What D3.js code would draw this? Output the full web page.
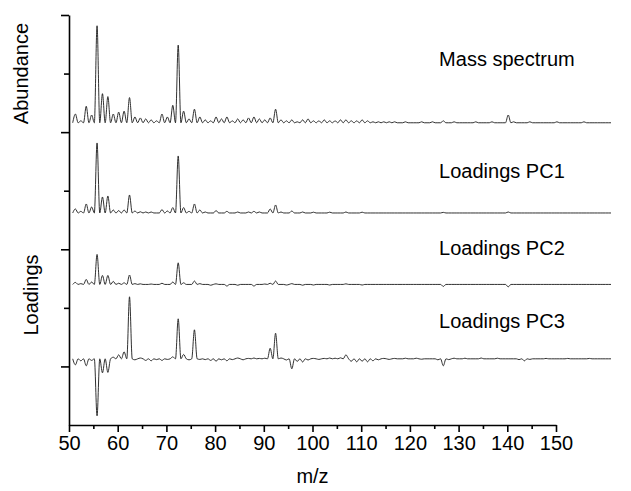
<!DOCTYPE html>
<html>
<head>
<meta charset="utf-8">
<script src="https://cdn.jsdelivr.net/npm/d3@7"></script>
<style>
    body { margin: 0; background: #fff; }
    svg { display: block; font-family: "Liberation Sans", Arial, sans-serif; }
    .axis path, .axis line { stroke: #000; stroke-width: 1.6; }
    .axis text { font-size: 20px; fill: #000; }
    .trace { fill: none; stroke: #1a1a1a; stroke-width: 0.9; }
    .label { font-size: 20px; fill: #000; }
</style>
</head>
<body>
<div id="chart"></div>
<script>
'use strict';

// Peak heights per unit mass [m/z, value]
// Mass spectrum in % of base peak
const massSpectrum = [
    [51, 9], [52, 2], [53, 17], [54, 8], [55, 100], [56, 30], [57, 27], [58, 9], [59, 11], [60, 12],
    [61, 26], [62, 6], [63, 5], [64, 4], [65, 3], [66, 2], [67, 9], [68, 6], [69, 18], [70, 80],
    [71, 12], [72, 4], [73, 14], [74, 6], [75, 3], [76, 2], [77, 6], [78, 4], [79, 6], [80, 2],
    [81, 4], [82, 3], [83, 5], [84, 6], [85, 4], [86, 3], [87, 5], [88, 14], [89, 3], [90, 2],
    [91, 3], [92, 1], [93, 3], [94, 4], [95, 2], [96, 2], [97, 3], [98, 2], [99, 2], [100, 3],
    [101, 3], [102, 2], [103, 2], [104, 3], [105, 2], [106, 1], [107, 1], [108, 1], [109, 1], [110, 1],
    [112, 1], [115, 1], [117, 1], [119, 2], [121, 1], [125, 1], [128, 1], [131, 8], [132, 1], [135, 1],
    [140, 1], [145, 1]
];

// Loadings of the three principal components
const loadingsPC1 = [
    [51, 0.02], [52, 0.008], [53, 0.045], [54, 0.03], [55, 0.35], [56, 0.08], [57, 0.085], [58, 0.015],
    [59, 0.012], [60, 0.015], [61, 0.09], [62, 0.01], [63, 0.006], [64, 0.005], [65, 0.005], [67, 0.017],
    [68, 0.01], [69, 0.027], [70, 0.285], [71, 0.027], [72, 0.008], [73, 0.045], [74, 0.015], [75, 0.005],
    [77, 0.012], [79, 0.008], [81, 0.005], [83, 0.005], [84, 0.008], [85, 0.005], [87, 0.02], [88, 0.04],
    [89, 0.005], [91, 0.01], [93, 0.005], [95, 0.004], [98, 0.004], [101, 0.005], [104, 0.004],
    [119, 0.003], [131, 0.005]
];

const loadingsPC2 = [
    [51, 0.01], [52, 0.004], [53, 0.025], [54, 0.012], [55, 0.15], [56, 0.045], [57, 0.045], [58, 0.015],
    [59, 0.006], [60, 0.008], [61, 0.047], [62, 0.004], [63, 0.003], [65, 0.002], [67, 0.006], [69, 0.012],
    [70, 0.108], [71, 0.008], [73, 0.017], [74, 0.004], [76, -0.004], [77, 0.003], [79, -0.008], [81, -0.004],
    [84, -0.008], [86, 0.002], [87, 0.006], [88, 0.017], [90, -0.003], [91, 0.004], [93, -0.004], [95, -0.003],
    [98, -0.003], [101, 0.003], [104, -0.003], [119, -0.01], [131, -0.012]
];

const loadingsPC3 = [
    [51, -0.03], [52, -0.01], [53, -0.035], [54, -0.008], [55, -0.285], [56, -0.07], [57, -0.068], [58, 0.008],
    [59, 0.02], [60, 0.035], [61, 0.31], [62, -0.005], [63, 0.004], [64, -0.008], [65, -0.01], [66, -0.004],
    [67, -0.008], [68, -0.003], [69, 0.01], [70, 0.2], [71, 0.022], [72, -0.005], [73, 0.145], [74, -0.003],
    [75, -0.004], [76, -0.008], [77, -0.012], [78, -0.005], [79, -0.01], [80, -0.004], [81, 0.004], [82, -0.005],
    [83, 0.002], [84, 0.004], [85, 0.002], [86, 0.003], [87, 0.053], [88, 0.128], [89, 0.004], [90, -0.006],
    [91, -0.05], [92, -0.013], [93, -0.016], [94, -0.006], [95, 0.002], [96, -0.003], [97, 0.002], [98, 0.004],
    [99, 0.003], [100, 0.005], [101, 0.02], [102, -0.012], [103, -0.015], [104, -0.012], [105, -0.015], [106, -0.01],
    [107, -0.005], [108, 0.002], [109, -0.003], [110, 0.002], [112, 0.003], [114, 0.003], [115, -0.002], [118, -0.005],
    [119, -0.035], [120, -0.004], [121, 0.003], [123, 0.003], [126, 0.004], [129, 0.003], [133, -0.004], [134, -0.01],
    [135, -0.003], [138, 0.002], [142, 0.002], [146, 0.002]
];

// Axis ticks
const xMajorTicks = [50, 60, 70, 80, 90, 100, 110, 120, 130, 140, 150];
const xMinorTicks = [55, 65, 75, 85, 95, 105, 115, 125, 135, 145];
const yMajorTicks = [1, 3, 5, 7];
const yMinorTicks = [2, 4, 6];

// Trace names as printed next to each trace
const traceNames = ['Mass spectrum', 'Loadings PC1', 'Loadings PC2', 'Loadings PC3'];

// Layout
const width = 631, height = 491;
const margins = { left: 69, right: 75, top: 15, bottom: 66 };

const svg = d3.select('#chart').append('svg')
    .attr('width', width)
    .attr('height', height);

// Axis scale (tick positions as printed)
const scaleX = d3.scaleLinear()
    .domain([50, 150])
    .range([margins.left, width - margins.right]);

// The traces in the original run wider than the printed axis (they end near x = 611)
const scaleMz = d3.scaleLinear()
    .domain([50, 150])
    .range([70, 611]);

const scaleY = d3.scaleLinear()
    .domain([0, 7])
    .range([height - margins.bottom, margins.top]);

// Each trace is stacked on its own baseline (in axis units) with its own gain
const traces = [
    { name: traceNames[0], peaks: massSpectrum, base: 5.16, gain: 0.01656, labelY: 6.13 },
    { name: traceNames[1], peaks: loadingsPC1, base: 3.62, gain: 3.415, labelY: 4.22 },
    { name: traceNames[2], peaks: loadingsPC2, base: 2.40, gain: 3.415, labelY: 2.9 },
    { name: traceNames[3], peaks: loadingsPC3, base: 1.13, gain: 3.415, labelY: 1.66 }
];

// Turn unit-mass peaks into a profile: peak at each m/z, baseline in between
function profile(peaks) {
    let byMz = new Map(peaks);
    let pts = [];
    for (let m = 50; m <= 150; m++) {
        if (m > 50) pts.push([m - 0.5, 0]);
        pts.push([m, byMz.get(m) || 0]);
    }
    return pts.filter(d => d[0] >= 50.5);
}

// Draw traces
traces.forEach(t => {
    let line = d3.line()
        .x(d => scaleMz(d[0]))
        .y(d => scaleY(t.base + d[1] * t.gain))
        .curve(d3.curveMonotoneX);

    svg.append('path')
        .datum(profile(t.peaks))
        .classed('trace', true)
        .attr('d', line);

    svg.append('text')
        .classed('label', true)
        .attr('x', scaleX(126))
        .attr('y', scaleY(t.labelY))
        .text(t.name);
});

// Draw axes
const xAxisY = height - margins.bottom;

svg.append('g')
    .classed('axis axis-x', true)
    .attr('transform', `translate(0, ${xAxisY})`)
    .call(d3.axisBottom(scaleX).tickValues(xMajorTicks).tickSize(7).tickSizeOuter(0).tickPadding(4));

svg.append('g')
    .classed('axis axis-x-minor', true)
    .attr('transform', `translate(0, ${xAxisY})`)
    .call(d3.axisBottom(scaleX).tickValues(xMinorTicks).tickSize(4).tickFormat(''))
    .call(g => g.select('.domain').remove())
    .selectAll('line').attr('stroke', '#000').attr('stroke-width', 1.6);

svg.append('g')
    .classed('axis axis-y', true)
    .attr('transform', `translate(${margins.left}, 0)`)
    .call(d3.axisLeft(scaleY).tickValues(yMajorTicks).tickSize(8).tickSizeOuter(0).tickFormat(''));

svg.append('g')
    .classed('axis axis-y-minor', true)
    .attr('transform', `translate(${margins.left}, 0)`)
    .call(d3.axisLeft(scaleY).tickValues(yMinorTicks).tickSize(5).tickFormat(''))
    .call(g => g.select('.domain').remove())
    .selectAll('line').attr('stroke', '#000').attr('stroke-width', 1.6);

// Axis titles
svg.append('text')
    .classed('label', true)
    .attr('x', scaleX(100))
    .attr('y', 483)
    .style('text-anchor', 'middle')
    .text('m/z');

svg.append('text')
    .classed('label', true)
    .attr('transform', `translate(28, ${scaleY(6)}) rotate(-90)`)
    .style('text-anchor', 'middle')
    .text('Abundance');

svg.append('text')
    .classed('label', true)
    .attr('transform', `translate(38, ${scaleY(2.22)}) rotate(-90)`)
    .style('text-anchor', 'middle')
    .text('Loadings');
</script>
</body>
</html>
